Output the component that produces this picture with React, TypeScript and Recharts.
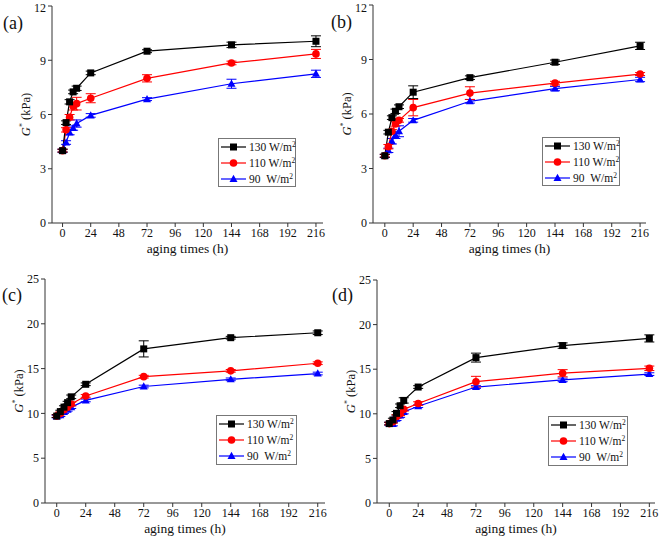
import React from "react";
import { LineChart, Line, XAxis, YAxis, ErrorBar } from "recharts";

const hours = [0, 3, 6, 9, 12, 24, 72, 144, 216];
const xTicks = [0, 24, 48, 72, 96, 120, 144, 168, 192, 216];
const yTicksAB = [0, 3, 6, 9, 12];
const yTicksCD = [0, 5, 10, 15, 20, 25];
const seriesNames = ["130 W/m", "110 W/m", "90\u00A0\u00A0W/m"];

// Panel (a)
const a130 = [4.0, 5.55, 6.7, 7.25, 7.45, 8.3, 9.5, 9.85, 10.05];
const a110 = [4.0, 5.15, 5.85, 6.45, 6.6, 6.9, 8.0, 8.85, 9.35];
const a90 = [4.0, 4.45, 5.0, 5.25, 5.5, 5.95, 6.85, 7.7, 8.25];
const a130Err = [0.08, 0.1, 0.12, 0.1, 0.12, 0.1, 0.08, 0.15, 0.3];
const a110Err = [0.08, 0.12, 0.15, 0.2, 0.35, 0.25, 0.2, 0.1, 0.25];
const a90Err = [0.08, 0.1, 0.12, 0.12, 0.2, 0.1, 0.08, 0.25, 0.2];

// Panel (b)
const b130 = [3.7, 5.0, 5.8, 6.15, 6.4, 7.2, 8.0, 8.85, 9.75];
const b110 = [3.7, 4.2, 5.05, 5.45, 5.65, 6.35, 7.15, 7.7, 8.2];
const b90 = [3.7, 4.0, 4.5, 4.85, 5.05, 5.65, 6.7, 7.4, 7.9];
const b130Err = [0.08, 0.1, 0.1, 0.12, 0.1, 0.35, 0.1, 0.12, 0.2];
const b110Err = [0.08, 0.12, 0.1, 0.12, 0.1, 0.45, 0.35, 0.1, 0.08];
const b90Err = [0.08, 0.12, 0.15, 0.2, 0.3, 0.1, 0.1, 0.12, 0.12];

// Panel (c)
const c130 = [9.7, 10.2, 10.7, 11.2, 11.85, 13.25, 17.2, 18.45, 19.0];
const c110 = [9.7, 10.0, 10.4, 10.7, 11.05, 11.95, 14.1, 14.75, 15.6];
const c90 = [9.65, 9.8, 10.15, 10.4, 10.7, 11.45, 13.0, 13.8, 14.45];
const c130Err = [0.15, 0.15, 0.15, 0.15, 0.2, 0.15, 0.9, 0.15, 0.2];
const c110Err = [0.15, 0.15, 0.15, 0.15, 0.2, 0.15, 0.15, 0.15, 0.15];
const c90Err = [0.15, 0.15, 0.15, 0.15, 0.15, 0.15, 0.15, 0.15, 0.15];

// Panel (d)
const d130 = [8.9, 9.3, 10.05, 10.9, 11.5, 13.0, 16.3, 17.65, 18.45];
const d110 = [8.9, 9.1, 9.7, 10.0, 10.5, 11.15, 13.6, 14.55, 15.1];
const d90 = [8.9, 8.85, 9.45, 9.8, 10.2, 10.85, 13.0, 13.8, 14.45];
const d130Err = [0.15, 0.2, 0.2, 0.2, 0.3, 0.15, 0.5, 0.3, 0.4];
const d110Err = [0.15, 0.15, 0.2, 0.2, 0.2, 0.2, 0.6, 0.4, 0.25];
const d90Err = [0.15, 0.2, 0.2, 0.2, 0.2, 0.15, 0.15, 0.2, 0.15];

const colors = ["#000000", "#ff0000", "#0000ff"];
const FONT = "Liberation Serif, Times New Roman, serif";

function buildData(k: number[], r: number[], b: number[], kE: number[], rE: number[], bE: number[]) {
  return hours.map((h, i) => ({ h, k: k[i], r: r[i], b: b[i], kE: kE[i], rE: rE[i], bE: bE[i] }));
}

function Marker({ type, cx, cy, color }: { type: number; cx: number; cy: number; color: string }) {
  if (type === 0) return <rect x={cx - 3.5} y={cy - 3.5} width={7} height={7} fill={color} />;
  if (type === 1) return <circle cx={cx} cy={cy} r={3.8} fill={color} />;
  return <polygon points={`${cx},${cy - 4.2} ${cx + 4},${cy + 3} ${cx - 4},${cy + 3}`} fill={color} />;
}

function LegendBox({ w, h }: { w: number; h: number }) {
  return (
    <svg width={w} height={h} style={{ display: "block", overflow: "visible" }}>
      <rect x={0.5} y={0.5} width={w - 1} height={h - 1} fill="#fff" stroke="#777" strokeWidth={1} />
      {seriesNames.map((n, i) => {
        const y = 9 + i * 16;
        return (
          <g key={n}>
            <line x1={3} x2={28} y1={y} y2={y} stroke={colors[i]} strokeWidth={1.2} />
            <Marker type={i} cx={15.5} cy={y} color={colors[i]} />
            <text x={31} y={y + 4} style={{ fontFamily: FONT }} fontSize={11.5} fill="#111">
              {n}
              <tspan dy={-4.5} fontSize={7.5}>2</tspan>
            </text>
          </g>
        );
      })}
    </svg>
  );
}

type PanelProps = {
  left: number;
  top: number;
  label: string;
  data: any[];
  xDomain: [number, number];
  yDomain: [number, number];
  yTicks: number[];
  margin: { top: number; right: number; bottom: number; left: number };
  yAxisWidth: number;
  xAxisHeight: number;
  legendPos: { left: number; top: number; w: number; h: number };
  labelPos: { x: number; y: number };
};

function Panel(p: PanelProps) {
  const keys = ["k", "r", "b"];
  const order = [2, 1, 0];
  const tickStyle = { fill: "#111", fontSize: 12, style: { fontFamily: FONT } };
  return (
    <div style={{ position: "absolute", left: p.left, top: p.top, width: 330, height: 269, fontFamily: FONT }}>
      <LineChart width={330} height={269} data={p.data} margin={p.margin} style={{ fontFamily: FONT }}>
        <XAxis
          dataKey="h"
          type="number"
          domain={p.xDomain}
          ticks={xTicks}
          allowDataOverflow
          height={p.xAxisHeight}
          tickSize={4}
          tickMargin={1}
          stroke="#333"
          tick={tickStyle}
          label={(props: any) => {
            const vb = props.viewBox || {};
            return (
              <text x={vb.x + vb.width / 2} y={vb.y + 30} textAnchor="middle" style={{ fontFamily: FONT }} fontSize={13.5} fill="#111">
                aging times (h)
              </text>
            );
          }}
        />
        <YAxis
          yAxisId="l"
          type="number"
          domain={p.yDomain}
          ticks={p.yTicks}
          width={p.yAxisWidth}
          tickSize={4}
          tickMargin={2}
          stroke="#333"
          tick={tickStyle}
          label={(props: any) => {
            const vb = props.viewBox || {};
            const cx = vb.x + vb.width - 22;
            const cy = vb.y + vb.height / 2;
            return (
              <text x={cx} y={cy} transform={`rotate(-90 ${cx} ${cy})`} textAnchor="middle" style={{ fontFamily: FONT }} fontSize={12.5} fill="#111">
                <tspan fontStyle="italic">G</tspan>
                <tspan dy={-5} fontSize={8}>*</tspan>
                <tspan dy={5}> (kPa)</tspan>
              </text>
            );
          }}
        />
        <YAxis yAxisId="r" orientation="right" domain={p.yDomain} width={0} tick={false} tickLine={false} stroke="#333" />
        {order.map((i) => (
          <Line
            key={keys[i]}
            yAxisId="l"
            dataKey={keys[i]}
            stroke={colors[i]}
            strokeWidth={1.2}
            isAnimationActive={false}
            dot={(dp: any) => <Marker key={`${keys[i]}-${dp.index}`} type={i} cx={dp.cx} cy={dp.cy} color={colors[i]} />}
            activeDot={false}
          >
            <ErrorBar dataKey={keys[i] + "E"} width={5} stroke={colors[i]} strokeWidth={1} direction="y" />
          </Line>
        ))}
      </LineChart>
      <div style={{ position: "absolute", left: p.legendPos.left, top: p.legendPos.top }}>
        <LegendBox w={p.legendPos.w} h={p.legendPos.h} />
      </div>
      <div style={{ position: "absolute", left: p.labelPos.x, top: p.labelPos.y, fontFamily: FONT, fontSize: 18, lineHeight: "18px", color: "#111" }}>
        {p.label}
      </div>
    </div>
  );
}

export default function App() {
  return (
    <div style={{ position: "absolute", left: 0, top: 0, width: 660, height: 538, background: "#fff" }}>
      <Panel
        left={0}
        top={0}
        label="(a)"
        data={buildData(a130, a110, a90, a130Err, a110Err, a90Err)}
        xDomain={[-9, 222]}
        yDomain={[0, 12]}
        yTicks={yTicksAB}
        margin={{ top: 6, right: 7, bottom: 0, left: 0 }}
        yAxisWidth={52}
        xAxisHeight={46}
        legendPos={{ left: 218, top: 138, w: 78, h: 49 }}
        labelPos={{ x: 3, y: 14 }}
      />
      <Panel
        left={330}
        top={0}
        label="(b)"
        data={buildData(b130, b110, b90, b130Err, b110Err, b90Err)}
        xDomain={[-10, 221]}
        yDomain={[0, 12]}
        yTicks={yTicksAB}
        margin={{ top: 5, right: 14, bottom: 0, left: 0 }}
        yAxisWidth={43}
        xAxisHeight={46}
        legendPos={{ left: 212, top: 137, w: 78, h: 49 }}
        labelPos={{ x: 1, y: 13 }}
      />
      <Panel
        left={0}
        top={269}
        label="(c)"
        data={buildData(c130, c110, c90, c130Err, c110Err, c90Err)}
        xDomain={[-9.7, 222]}
        yDomain={[0, 25]}
        yTicks={yTicksCD}
        margin={{ top: 10, right: 5, bottom: 0, left: 0 }}
        yAxisWidth={45}
        xAxisHeight={35}
        legendPos={{ left: 216, top: 146, w: 81, h: 50 }}
        labelPos={{ x: 2, y: 17 }}
      />
      <Panel
        left={330}
        top={269}
        label="(d)"
        data={buildData(d130, d110, d90, d130Err, d110Err, d90Err)}
        xDomain={[-10.2, 220.7]}
        yDomain={[0, 25]}
        yTicks={yTicksCD}
        margin={{ top: 11, right: 5, bottom: 0, left: 0 }}
        yAxisWidth={47}
        xAxisHeight={35}
        legendPos={{ left: 218, top: 147, w: 80, h: 50 }}
        labelPos={{ x: 2, y: 17 }}
      />
    </div>
  );
}
